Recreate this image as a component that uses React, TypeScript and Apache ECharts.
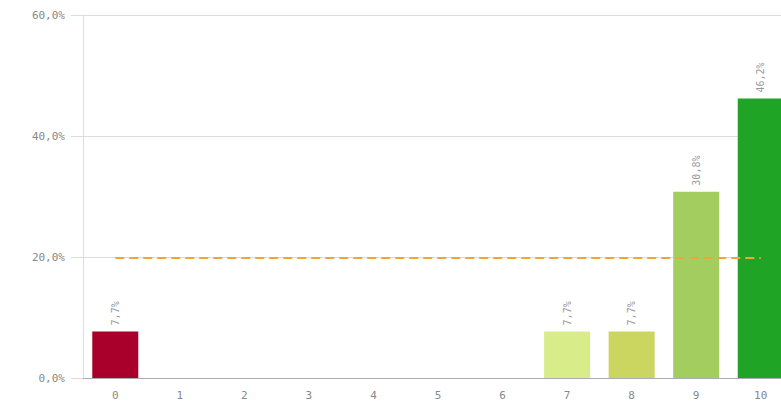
import React, { useEffect, useRef } from "react";
import * as echarts from "echarts";

const categories = ["0", "1", "2", "3", "4", "5", "6", "7", "8", "9", "10"];
const values = [7.7, 0, 0, 0, 0, 0, 0, 7.7, 7.7, 30.8, 46.2];
const barColors = [
  "#a8002a", "#cccccc", "#cccccc", "#cccccc", "#cccccc", "#cccccc", "#cccccc",
  "#d9ec8a", "#cbd660", "#a3cd5f", "#1fa426",
];
const targetValue = 19.8;
const yTicks = [0, 20, 40, 60];

const fmt = (v: number) => v.toFixed(1).replace(".", ",") + "%";

export default function App() {
  const ref = useRef<HTMLDivElement>(null);
  useEffect(() => {
    if (!ref.current) return;
    const chart = echarts.init(ref.current, undefined, { renderer: "svg" });
    const font = "'DejaVu Sans Mono', monospace";
    chart.setOption({
      animation: false,
      grid: { left: 83, right: 0, top: 15, bottom: 36 },
      xAxis: {
        type: "category",
        data: categories,
        axisLine: { lineStyle: { color: "#a8abb8", width: 1 } },
        axisTick: { show: false },
        axisLabel: { color: "#888", fontFamily: font, fontSize: 11, margin: 12 },
      },
      yAxis: {
        type: "value",
        min: yTicks[0],
        max: yTicks[yTicks.length - 1],
        interval: 20,
        axisLine: { show: true, lineStyle: { color: "#dddddd" } },
        axisTick: { show: true, length: 12, lineStyle: { color: "#dddddd" } },
        splitLine: { lineStyle: { color: "#dddddd" } },
        axisLabel: {
          color: "#888",
          fontFamily: font,
          fontSize: 11,
          margin: 18,
          formatter: (v: number) => fmt(v),
        },
      },
      series: [
        {
          type: "bar",
          data: values.map((v, i) => ({ value: v, itemStyle: { color: barColors[i] } })),
          barWidth: 46,
          label: {
            show: true,
            position: "top",
            rotate: 90,
            align: "left",
            verticalAlign: "middle",
            distance: 6,
            color: "#999",
            fontFamily: font,
            fontSize: 10,
            formatter: (p: any) => (p.value ? fmt(p.value) : ""),
          },
          markLine: {
            silent: true,
            symbol: "none",
            label: { show: false },
            lineStyle: { color: "#f2a43a", type: [9, 5], width: 2 },
            data: [
              [
                { xAxis: 0, yAxis: targetValue },
                { xAxis: 10, yAxis: targetValue },
              ],
            ],
          },
        },
      ],
    });
    return () => chart.dispose();
  }, []);
  return (
    <div
      style={{ position: "absolute", left: 0, top: 0, width: 781, height: 414, overflow: "hidden", background: "#fff" }}
    >
      <div ref={ref} style={{ width: 793, height: 414 }} />
    </div>
  );
}
